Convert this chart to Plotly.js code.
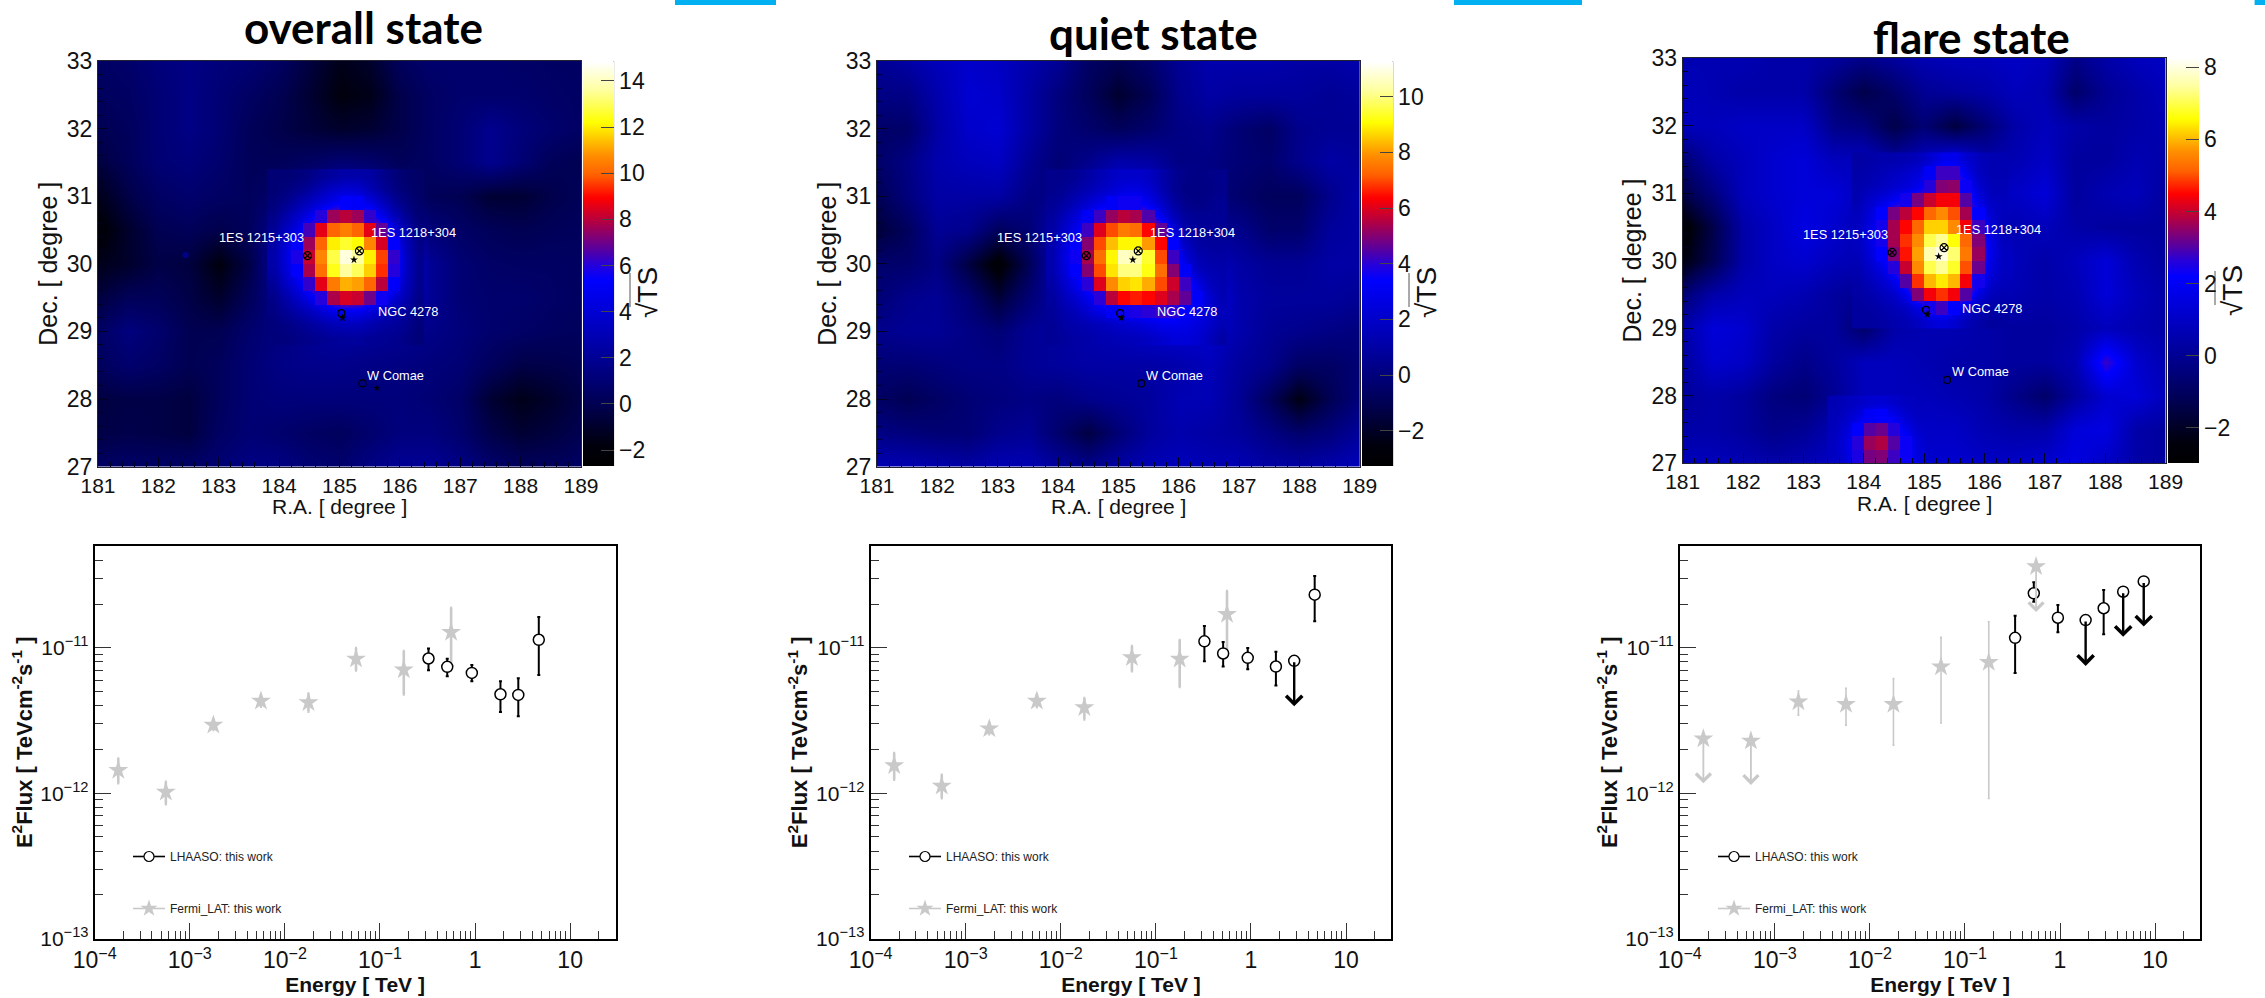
<!DOCTYPE html>
<html><head><meta charset="utf-8">
<script src="https://cdn.plot.ly/plotly-3.0.1.min.js"></script>
<style>html,body{margin:0;padding:0;background:#fff}#c{width:2265px;height:998px}</style></head>
<body><div id="c"></div><script>
// ---------- Sky maps: coarse background, read at 0.5 degree nodes ----------
const raCoarse=[181,181.5,182,182.5,183,183.5,184,184.5,185,185.5,186,186.5,187,187.5,188,188.5,189];
const decCoarse=[33,32.5,32,31.5,31,30.5,30,29.5,29,28.5,28,27.5,27];
const overallBg=[
[.5,.7,1.2,1.5,1.2,1,.5,-.5,-1.5,-1,.3,.8,.8,.8,.6,.5,.5],
[.3,.5,1,1.5,1,.5,0,-.8,-1.8,-1.5,-.2,.5,.8,.8,.8,.6,.5],
[0,.3,1,1.5,1,.2,-.2,-.6,-1,-.8,-.2,.5,1,1.8,1.2,.8,.5],
[-.5,.2,1,1.2,.8,.2,.2,.5,1,.8,.2,.5,1,1.8,1,.2,0],
[-1.5,-.3,.5,.8,.5,.3,.8,1.6,2.8,2.4,1,.2,0,-.8,-.8,-.2,.2],
[-2.2,-1,0,.2,-.2,.3,2,4,8,8,3,1.2,.6,.2,0,.2,.3],
[-1.5,-1,-.3,-.5,-1.8,-.3,2.5,6,12,12,5,2,1,.6,.5,.5,.4],
[-.5,.2,.2,-.3,-1,.2,1.8,4,8,8,4,2,1,.8,.8,.6,.4],
[.5,1.3,.8,0,0,.8,1.4,2,2.4,2.2,2,1.6,1.2,.8,.6,.4,.3],
[.3,.8,.5,0,.3,1,1.5,1.7,1.7,1.5,1.4,1.2,1,.3,-.3,-.2,0],
[-.5,-.3,-.3,-.5,.3,1,1.2,1.2,1.2,1.2,1.2,1,.6,-.8,-1.5,-1,-.3],
[-.3,-.2,-.3,-.5,.5,1,.8,.5,.3,.8,1.3,1.3,.8,-.2,-.8,-.5,0],
[.5,.6,.6,.6,1,1.5,1.5,1,.8,1.5,2,2,1.5,.8,.3,.3,.5]];
const quietBg=[
[.6,1,1.6,2,1.8,1.2,.6,-.6,-1,-.4,.6,1.2,1.2,1.2,1,1,1.2],
[.2,.2,1.2,2.2,2,1,0,-.8,-1.8,-1,.4,1,.8,.8,.8,.6,.8],
[-.5,-.5,1,2,2.2,1,0,-.4,-.8,-.4,.2,.4,-.2,-.6,.4,.6,.6],
[-.5,.2,1.2,1.6,1.8,.6,-.2,.4,1.2,1,.2,.2,-.2,-.4,.4,1,.8],
[-1,0,1,1,1,.2,.2,1.2,2.4,2,.8,.2,-.4,-.8,-.8,.4,1.2],
[-1.6,-.8,.6,.4,-.8,-.2,1.4,3,5.5,5.5,2.5,.6,.4,-.4,-.4,.8,1],
[-.4,-.4,.2,-1.4,-3,-1,1.6,3.5,9,9,4,1.8,1,.6,.6,1,1],
[-.2,.4,.6,-.2,-1.6,-.2,1,2.4,5.5,6,5,2.8,1.2,.8,.8,.8,.6],
[.4,.6,.6,.2,-.2,.6,.8,1.2,1.6,2,2.2,2,1.2,.6,.4,.2,0],
[-.2,-.2,0,.2,.2,.6,.8,1,1,1,1.2,1.6,.8,.4,-.6,-.6,-.2],
[-.6,-1,-.6,-.2,0,.2,0,.4,.6,.8,1.4,1.4,.6,-.8,-2.4,-1,0],
[.2,0,-.2,-.2,.4,.6,-.4,-1.4,-.2,.8,1.2,1,.8,.2,-.4,0,.8],
[1.4,1.4,1.2,1,1.4,1.4,.8,.4,1,1.4,1.6,1.4,1.4,1,1,1.2,1.6]];
const flareBg=[
[.6,.6,.6,.4,.4,.2,-.2,.2,.6,.8,.8,1,.8,-.2,.4,.8,1],
[.8,.6,.4,.4,.4,-.6,-1.4,-.8,0,.2,.4,.8,.6,-.8,0,.4,.8],
[.8,.8,1,1,1,-.2,-.4,-1.4,-.6,-1.6,-.6,.4,.8,.4,.2,.4,.6],
[-.6,.4,.8,1.2,1.4,.8,.8,.2,.8,1.6,.4,.6,1,.2,.2,.6,.4],
[-1.4,-.4,.8,1.2,1.4,1.4,.8,.6,1.8,3,1.2,1,1.4,.2,.6,.8,.2],
[-2.8,-1.4,.4,1,1.6,1.2,.6,1.6,5,6,1.2,.6,.8,.4,.2,.2,.2],
[-2.4,-1.2,.4,1,1.2,.8,.6,2,7,7,2,.8,.4,.8,1.4,.6,.2],
[-.6,.4,.8,.8,.6,.2,0,.8,4,4,1.2,.6,.4,.6,1.4,.8,.4],
[.4,1.4,1.2,.4,.2,.2,-.8,.4,.6,.6,.4,.2,.2,.4,.8,.6,.4],
[.2,1.2,1,.2,-.2,.2,.8,.8,.6,.4,.4,.2,.2,.6,2.8,1.2,.6],
[.2,.4,.2,-.4,-.6,0,.8,.8,.8,.6,.4,-.2,-.8,.2,1.2,1.4,.8],
[.4,.4,.2,-.2,0,.6,1.6,1.4,1,1,.6,.4,.4,1.4,1.6,.4,.2],
[.8,.8,.6,.4,.6,1,1.6,1.6,1.2,1.2,1,1,1.2,1.6,1,.4,.2]];
// ---------- Sky maps: central excess, read at the 0.2 degree pixels ----------
const overallCoreRA=[183.9,184.1,184.3,184.5,184.7,184.9,185.1,185.3,185.5,185.7,185.9,186.1,186.3];
const overallCoreDec=[31.3,31.1,30.9,30.7,30.5,30.3,30.1,29.9,29.7,29.5,29.3,29.1,28.9];
const overallCore=[
[1,1,1.2,1.5,2,2.3,2.6,2.6,2.4,1.8,1.2,.8,.6],
[1,1.3,1.7,2.2,3,3.6,4,3.8,3,2.2,1.5,1,.6],
[1.2,1.8,2.6,3.4,4.2,5,5.4,5.2,4.6,3.4,2.2,1.4,.8],
[1.6,2.6,3.6,4.8,6,7.6,8,7.6,6.2,4.8,3.2,2,1],
[2,3.4,4.6,6.4,8.6,10,10.5,10,8.6,6.8,4.4,2.8,1.4],
[2.4,4,5.4,7.6,10,12,12.6,12.2,10.6,8.4,5.4,3.2,1.6],
[2.6,4.2,5.8,8.2,10.6,12.8,14.4,13.6,12,9.6,6.2,3.4,1.8],
[2.4,4,5.4,7.8,10.2,12.4,13.6,13,11.6,9.4,6,3.4,1.8],
[2,3.4,4.6,6.2,8.6,10.4,11.2,11,10,8,5.2,3.2,1.8],
[1.6,2.6,3.6,4.8,6,7.8,8.4,8.2,7,5.6,4,2.8,1.6],
[1.4,2,2.6,3.2,4,4.6,5,4.9,4.2,3.4,2.8,2.2,1.4],
[1.2,1.5,1.8,2.2,2.6,3,3.2,3.2,2.8,2.4,2.2,1.8,1.2],
[1.2,1.3,1.5,1.7,1.9,2.1,2.2,2.2,2,1.9,1.8,1.5,1.1]];
const quietCoreRA=[183.9,184.1,184.3,184.5,184.7,184.9,185.1,185.3,185.5,185.7,185.9,186.1,186.3,186.5,186.7];
const quietCoreDec=[31.3,31.1,30.9,30.7,30.5,30.3,30.1,29.9,29.7,29.5,29.3,29.1,28.9];
const quietCore=[
[.4,.4,.6,1,1.4,1.8,2,2,1.8,1.2,.6,.3,.2,.3,.4],
[.4,.6,1,1.4,1.8,2.2,2.6,2.6,2.2,1.4,.6,.2,.2,.2,.4],
[.6,1,1.6,2.2,2.8,3.2,3.6,3.6,3,2,1,.4,.2,.4,.6],
[.8,1.6,2.4,3.2,4.2,5.2,5.6,5.4,4.4,3,1.6,.8,.6,.6,.6],
[1,2,3,4.2,6,7,7.6,7.4,6.4,4.6,2.6,1.2,.8,.7,.6],
[1.2,2.4,3.4,5,7,8.4,9,9,8,6.4,3.4,1.8,1,.8,.8],
[1.2,2.6,3.6,5.4,7.4,9,10.6,10.4,9.4,7,4.2,2.4,1.4,1.1,1],
[1.2,2.4,3.4,5,7,8.8,10,10,9.2,7.4,5,3.2,1.8,1.4,1.2],
[1,2,3,4,6,7.8,8.6,8.8,8.2,7,5.8,4.2,2.8,1.7,1.3],
[.8,1.6,2.2,3,4,5.6,6.4,6.6,6.4,6,5.4,4.6,3.2,2.2,1.4],
[.7,1.2,1.6,2.2,2.8,3.2,3.6,3.8,4,4.2,4,3.4,2.8,2.2,1.6],
[.6,1,1.2,1.4,1.6,1.9,2.1,2.3,2.6,2.9,3,2.8,2.5,2,1.4],
[.6,.8,1,1.1,1.3,1.4,1.5,1.6,1.8,2.1,2.4,2.4,2.2,1.6,1]];
const flareCoreRA=[183.9,184.1,184.3,184.5,184.7,184.9,185.1,185.3,185.5,185.7,185.9,186.1,186.3];
const flareCoreDec=[31.5,31.3,31.1,30.9,30.7,30.5,30.3,30.1,29.9,29.7,29.5,29.3,29.1];
const flareCore=[
[.3,.4,.5,.5,.6,.8,1.2,1.8,1.8,1.2,.8,.6,.6],
[.4,.5,.7,.9,1.1,1.4,2,2.8,2.8,1.7,.9,.6,.6],
[.5,.7,.9,1.2,1.4,1.8,2.6,3.4,3.5,2.3,1.2,.7,.7],
[.6,1.1,1.5,1.9,2.4,3.3,4,4.4,4.4,3,1.6,.9,.8],
[.8,1.4,2.2,3.3,3.9,4.5,5.2,5.6,5,3.7,2.2,1.2,.8],
[.9,1.6,2.4,3.7,4.5,5.2,6.2,6.2,5.6,4.4,2.8,1.4,.7],
[.9,1.6,2.4,3.7,4.8,5.6,7,7.4,6.6,5.2,3.4,1.7,.8],
[.8,1.4,2.2,3.4,4.6,5.8,7.6,8,7.2,5.4,3.6,1.7,.9],
[.6,1.1,1.7,2.6,4,5.6,7,7.4,6.8,5,3.2,1.5,.9],
[.4,.8,1.2,1.8,3,4.8,6,6.4,6,4.4,2.4,1.2,.8],
[.3,.5,.8,1.1,1.8,3.4,4.4,4.8,4.4,3,1.5,.8,.6],
[.2,.3,.5,.7,1,1.6,2.4,2.8,2.2,1.3,.7,.4,.4],
[.2,.2,.3,.5,.6,.9,1.3,1.5,1.2,.7,.4,.2,.2]];
const flareSpotRA=[183.5,183.7,183.9,184.1,184.3,184.5,184.7,184.9];
const flareSpotDec=[27.9,27.7,27.5,27.3,27.1];
const flareSpot=[
[.6,.8,1,1.2,1.3,1.1,.9,.8],
[.7,1,1.5,2,2.2,1.8,1.2,.9],
[.8,1.3,2.2,3,3.2,2.6,1.8,1.1],
[.9,1.5,2.6,3.6,3.8,3,2.3,1.3],
[.9,1.4,2.5,3.3,3.4,2.8,2.3,1.4]];
// ---------- Sources ----------
const labelNames=["1ES 1215+303","1ES 1218+304","NGC 4278","W Comae"];
const labelRA=[183.7,186.23,186.13,185.93];
const labelDec=[30.39,30.46,29.29,28.35];
const crossRA=[184.47,185.33], crossDec=[30.12,30.19];
const ringRA=[185.03,185.38], ringDec=[29.27,28.23];
const starRA=[185.24,185.05], starDec=[30.06,29.2];
const overallExtraRA=[185.62], overallExtraDec=[28.16];
const overallDotRA=[182.45], overallDotDec=[30.13];
// ---------- Spectra ----------
const fermiE=[1.77e-4,5.6e-4,1.77e-3,5.6e-3,1.77e-2,5.6e-2,1.78e-1,5.6e-1];
const overallFermiY=[1.44e-12,1.02e-12,2.94e-12,4.31e-12,4.20e-12,8.39e-12,7.05e-12,1.28e-11];
const overallFermiHi=[1.73e-12,1.20e-12,3.15e-12,4.72e-12,4.84e-12,9.95e-12,9.48e-12,1.88e-11];
const overallFermiLo=[1.17e-12,.84e-12,2.72e-12,3.94e-12,3.64e-12,6.98e-12,4.77e-12,7.3e-12];
const overallFermiUL=[0,0,0,0,0,0,0,0];
const overallLhaasoE=[.324,.51,.925,1.85,2.85,4.68];
const overallLhaasoY=[8.44e-12,7.4e-12,6.72e-12,4.79e-12,4.74e-12,1.135e-11];
const overallLhaasoHi=[9.9e-12,8.4e-12,7.6e-12,5.88e-12,6.18e-12,1.63e-11];
const overallLhaasoLo=[7.0e-12,6.38e-12,5.88e-12,3.62e-12,3.38e-12,6.5e-12];
const overallLhaasoUL=[0,0,0,0,0,0];
const quietFermiY=[1.55e-12,1.12e-12,2.78e-12,4.31e-12,3.88e-12,8.58e-12,8.36e-12,1.70e-11];
const quietFermiHi=[1.89e-12,1.34e-12,3.05e-12,4.79e-12,4.52e-12,1.026e-11,1.13e-11,2.46e-11];
const quietFermiLo=[1.24e-12,.925e-12,2.55e-12,3.9e-12,3.22e-12,6.9e-12,5.38e-12,9.1e-12];
const quietFermiUL=[0,0,0,0,0,0,0,0];
const quietLhaasoE=[.324,.51,.925,1.83,2.85,4.68];
const quietLhaasoY=[1.107e-11,9.14e-12,8.53e-12,7.43e-12,8.13e-12,2.32e-11];
const quietLhaasoHi=[1.41e-11,1.094e-11,9.95e-12,9.38e-12,8.13e-12,3.12e-11];
const quietLhaasoLo=[8.09e-12,7.43e-12,7.13e-12,5.5e-12,3.96e-12,1.52e-11];
const quietLhaasoUL=[0,0,0,0,1,0];
const flareFermiY=[2.37e-12,2.29e-12,4.25e-12,4.09e-12,4.09e-12,7.4e-12,7.96e-12,3.62e-11];
const flareFermiHi=[2.37e-12,2.29e-12,5.05e-12,5.27e-12,6.15e-12,1.18e-11,1.51e-11,3.62e-11];
const flareFermiLo=[1.17e-12,1.14e-12,3.44e-12,2.94e-12,2.14e-12,3.04e-12,9.2e-13,1.76e-11];
const flareFermiUL=[1,1,0,0,0,0,0,1];
const flareLhaasoE=[.337,.53,.95,1.86,2.88,4.62,7.6];
const flareLhaasoY=[1.17e-11,2.37e-11,1.61e-11,1.55e-11,1.87e-11,2.43e-11,2.86e-11];
const flareLhaasoHi=[1.66e-11,2.82e-11,1.97e-11,1.55e-11,2.5e-11,2.43e-11,2.86e-11];
const flareLhaasoLo=[6.72e-12,2.07e-11,1.28e-11,7.5e-12,1.24e-11,1.19e-11,1.40e-11];
const flareLhaasoUL=[0,0,0,1,0,1,1];
// ---------- Text ----------
const titles=["overall state","quiet state","flare state"];
const energyTickVals=[1e-4,1e-3,1e-2,1e-1,1,10];
const energyTickText=["10<sup>−4</sup>","10<sup>−3</sup>","10<sup>−2</sup>","10<sup>−1</sup>","1","10"];
const fluxTickVals=[1e-13,1e-12,1e-11];
const fluxTickText=["10<sup>−13</sup>","10<sup>−12</sup>","10<sup>−11</sup>"];

// ---------- Colours and geometry ----------
const heatScale=[[0,'#000000'],[.05,'#00000c'],[.15,'#000050'],[.3,'#0000a8'],[.46,'#0000ff'],[.5,'#2800d8'],[.53,'#5000a8'],[.606,'#b40040'],[.664,'#ff0000'],[.72,'#ff6000'],[.77,'#ff9000'],[.85,'#ffff00'],[.93,'#ffffa0'],[1,'#ffffff']];
const GREY='#c9c9c9';
const FONT='"Liberation Sans",Arial,sans-serif';
const W=2265,H=998;
const fx=p=>p/W, fy=p=>1-p/H;
const maps=[
 {bg:overallBg,cores:[[overallCoreRA,overallCoreDec,overallCore]],x0:98,x1:581,y0:61,y1:466.6,cb0:582.6,cb1:613.6,cy0:61.7,cy1:466,zmin:-2.69,zmax:14.82,title:[363.5,27],ts:[647,293],tick:[630,273,307]},
 {bg:quietBg,cores:[[quietCoreRA,quietCoreDec,quietCore]],x0:877,x1:1359.7,y0:61,y1:466.6,cb0:1361.6,cb1:1392.7,cy0:61.7,cy1:466,zmin:-3.27,zmax:11.25,title:[1153,33],ts:[1426,293],tick:[1409,273,307]},
 {bg:flareBg,cores:[[flareCoreRA,flareCoreDec,flareCore],[flareSpotRA,flareSpotDec,flareSpot]],x0:1682.7,x1:2165.6,y0:58,y1:463,cb0:2167.9,cb1:2198.4,cy0:58.5,cy1:463,zmin:-2.98,zmax:8.26,title:[1971,37],ts:[2232,291],tick:[2215,271,305]}];
const specs=[
 {x0:94.7,x1:615.5,fy:overallFermiY,fh:overallFermiHi,fl:overallFermiLo,fu:overallFermiUL,le:overallLhaasoE,ly:overallLhaasoY,lh:overallLhaasoHi,ll:overallLhaasoLo,lu:overallLhaasoUL,ft:2.6,lgx:128},
 {x0:870.6,x1:1391.4,fy:quietFermiY,fh:quietFermiHi,fl:quietFermiLo,fu:quietFermiUL,le:quietLhaasoE,ly:quietLhaasoY,lh:quietLhaasoHi,ll:quietLhaasoLo,lu:quietLhaasoUL,ft:2.6,lgx:904},
 {x0:1679.8,x1:2200.4,fy:flareFermiY,fh:flareFermiHi,fl:flareFermiLo,fu:flareFermiUL,le:flareLhaasoE,ly:flareLhaasoY,lh:flareLhaasoHi,ll:flareLhaasoLo,lu:flareLhaasoUL,ft:1.6,lgx:1713}];
const SY0=546,SY1=938.6;

const traces=[],annotations=[],shapes=[];
const layout={width:W,height:H,margin:{l:0,r:0,t:0,b:0},paper_bgcolor:'#fff',plot_bgcolor:'#fff',font:{family:FONT,color:'#111'},showlegend:true};

[[675,776],[1454,1582],[2254.6,2265]].forEach(b=>shapes.push({type:'rect',xref:'paper',yref:'paper',x0:fx(b[0]),x1:fx(b[1]),y0:fy(5),y1:1,fillcolor:'#00B0F0',line:{width:0}}));

maps.forEach((m,i)=>{
  const n=i+1, xa='x'+n, ya='y'+n, xk='xaxis'+n, yk='yaxis'+n;
  const common={colorscale:heatScale,zmin:m.zmin,zmax:m.zmax,xaxis:xa,yaxis:ya,hoverinfo:'skip'};
  traces.push(Object.assign({type:'heatmap',x:raCoarse,y:decCoarse,z:m.bg,zsmooth:'best',showlegend:false,
    colorbar:{x:fx(m.cb0),xanchor:'left',xpad:0,y:fy(m.cy1),yanchor:'bottom',ypad:0,len:(m.cy1-m.cy0)/H,lenmode:'fraction',thickness:m.cb1-m.cb0,thicknessmode:'pixels',
      outlinewidth:0,ticks:'inside',ticklen:13,tickcolor:'#444',tickwidth:1,tick0:0,dtick:2,tickfont:{size:23,color:'#111'}}},common));
  const level=m.zmin+.44*(m.zmax-m.zmin);
  m.cores.forEach(c=>traces.push(Object.assign({type:'heatmap',x:c[0],y:c[1],z:c[2],zsmooth:'best',showscale:false,showlegend:false},common)));
  m.cores.forEach(c=>traces.push(Object.assign({type:'heatmap',x:c[0],y:c[1],z:c[2].map(r=>r.map(v=>v<level?null:v)),zsmooth:false,showscale:false,showlegend:false},common)));
  const mk=(X,Y,sym,size,lw,col)=>traces.push({type:'scatter',mode:'markers',x:X,y:Y,xaxis:xa,yaxis:ya,showlegend:false,hoverinfo:'skip',marker:{symbol:sym,size:size,color:col||'#000',line:{color:col||'#000',width:lw}}});
  mk(crossRA,crossDec,'circle-x-open',8,1.2);
  mk(ringRA,ringDec,'circle-open',7,1.2);
  mk(starRA,starDec,'star',6,0);
  if(i===0){ mk(overallExtraRA,overallExtraDec,'star',5,0); mk(overallDotRA,overallDotDec,'circle',6,0,'#00008c'); }
  labelNames.forEach((t,k)=>annotations.push({xref:xa,yref:ya,x:labelRA[k],y:labelDec[k],text:t,showarrow:false,font:{size:12.8,color:'#fff',family:FONT}}));
  layout[xk]={domain:[fx(m.x0),fx(m.x1)],anchor:ya,range:[181,189],tick0:181,dtick:1,ticks:'inside',ticklen:10,tickcolor:'#000020',
    minor:{ticks:'inside',ticklen:5,dtick:.2,tickcolor:'#000020'},showgrid:false,zeroline:false,showline:true,linecolor:'#223',linewidth:1,mirror:true,tickfont:{size:21,color:'#111'},layer:'above traces'};
  layout[yk]={domain:[fy(m.y1),fy(m.y0)],anchor:xa,range:[27,33],tick0:27,dtick:1,ticks:'inside',ticklen:10,tickcolor:'#000020',
    minor:{ticks:'inside',ticklen:5,dtick:.2,tickcolor:'#000020'},showgrid:false,zeroline:false,showline:true,linecolor:'#223',linewidth:1,mirror:true,tickfont:{size:23,color:'#111'},
    title:{text:'Dec. [ degree ]',font:{size:25,color:'#111'},standoff:2},layer:'above traces'};
  annotations.push({xref:'paper',yref:'paper',x:fx((m.x0+m.x1)/2),y:fy(m.y1+40),text:'R.A. [ degree ]',showarrow:false,xanchor:'center',yanchor:'middle',font:{size:21,color:'#111'}});
  annotations.push({xref:'paper',yref:'paper',x:fx(m.title[0]),y:fy(m.title[1]),text:titles[i],showarrow:false,xanchor:'center',yanchor:'middle',font:{family:'Lato,sans-serif',size:44,color:'#000',weight:700}});
  annotations.push({xref:'paper',yref:'paper',x:fx(m.ts[0]),y:fy(m.ts[1]),text:'√TS',showarrow:false,textangle:-90,xanchor:'center',yanchor:'middle',font:{size:28,color:'#111'}});
  shapes.push({type:'line',xref:'paper',yref:'paper',x0:fx(m.tick[0]),x1:fx(m.tick[0]),y0:fy(m.tick[1]),y1:fy(m.tick[2]),line:{color:'#555',width:1}});
  shapes.push({type:'line',xref:'paper',yref:'paper',x0:fx(m.cb1),x1:fx(m.cb1),y0:fy(m.cy0),y1:fy(m.cy1),line:{color:'#333',width:1}});
});

const decadeMinors=(a,b)=>{const r=[];for(let d=a;d<=b;d++)for(let k=2;k<=9;k++)r.push(k*Math.pow(10,d));return r;};
specs.forEach((s,i)=>{
  const n=i+4, xa='x'+n, ya='y'+n, lg=i===0?'legend':'legend'+(i+1);
  const err=(y,hi,lo,ul)=>({type:'data',symmetric:false,array:y.map((v,k)=>ul[k]?0:hi[k]-v),arrayminus:y.map((v,k)=>ul[k]?0:v-lo[k])});
  traces.push({type:'scatter',mode:'markers',x:fermiE,y:s.fy,xaxis:xa,yaxis:ya,showlegend:false,name:'Fermi_LAT',
    marker:{symbol:'star',size:15,color:GREY,line:{width:0}},error_y:Object.assign(err(s.fy,s.fh,s.fl,s.fu),{color:GREY,thickness:s.ft,width:1})});
  traces.push({type:'scatter',mode:'markers',x:s.le,y:s.ly,xaxis:xa,yaxis:ya,showlegend:false,name:'LHAASO',
    marker:{symbol:'circle',size:11,color:'#fff',line:{color:'#000',width:1.5}},error_y:Object.assign(err(s.ly,s.lh,s.ll,s.lu),{color:'#000',thickness:2,width:1.5})});
  const ul=(X,Y,Lo,U,color,w)=>X.forEach((e,k)=>{ if(U[k]) annotations.push({xref:xa,yref:ya,axref:xa,ayref:ya,x:Math.log10(e),y:Math.log10(Lo[k]),ax:Math.log10(e),ay:Math.log10(Y[k]),text:'',showarrow:true,arrowhead:4,arrowsize:color===GREY?1.6:1.3,arrowwidth:w,arrowcolor:color}); });
  ul(fermiE,s.fy,s.fl,s.fu,GREY,1.8);
  ul(s.le,s.ly,s.ll,s.lu,'#000',2.4);
  traces.push({type:'scatter',mode:'lines+markers',x:[null],y:[null],xaxis:xa,yaxis:ya,name:'LHAASO: this work',legend:lg,legendgroup:'a'+i,
    line:{color:'#000',width:1.6},marker:{symbol:'circle',size:10,color:'#fff',line:{color:'#000',width:1.2}}});
  traces.push({type:'scatter',mode:'lines+markers',x:[null],y:[null],xaxis:xa,yaxis:ya,name:'Fermi_LAT: this work',legend:lg,legendgroup:'b'+i,
    line:{color:GREY,width:1.6},marker:{symbol:'star',size:13,color:GREY,line:{width:0}}});
  layout[lg]={x:fx(s.lgx),xanchor:'left',y:fy(842),yanchor:'top',bgcolor:'rgba(0,0,0,0)',borderwidth:0,font:{size:12,color:'#222'},tracegroupgap:33,itemwidth:32,itemclick:false};
  layout['xaxis'+n]={domain:[fx(s.x0),fx(s.x1)],anchor:ya,type:'log',range:[-4,1.477],tickmode:'array',tickvals:energyTickVals,ticktext:energyTickText,ticks:'inside',ticklen:16,tickwidth:1,tickcolor:'#333',
    minor:{ticks:'inside',ticklen:8,tickmode:'array',tickvals:decadeMinors(-4,1),tickcolor:'#333',tickwidth:1},showgrid:false,zeroline:false,showline:true,linecolor:'#000',linewidth:2,mirror:true,tickfont:{size:23,color:'#111'},
    title:{text:'<b>Energy [ TeV ]</b>',font:{size:21,color:'#111'},standoff:0}};
  layout['yaxis'+n]={domain:[fy(SY1),fy(SY0)],anchor:xa,type:'log',range:[-13,-10.3],tickmode:'array',tickvals:fluxTickVals,ticktext:fluxTickText,ticks:'inside',ticklen:16,tickwidth:1,tickcolor:'#333',
    minor:{ticks:'inside',ticklen:8,tickmode:'array',tickvals:decadeMinors(-13,-11),tickcolor:'#333',tickwidth:1},showgrid:false,zeroline:false,showline:true,linecolor:'#000',linewidth:2,mirror:true,tickfont:{size:21,color:'#111'},
    title:{text:'<b>E<sup>2</sup>Flux [ TeVcm<sup>-2</sup>s<sup>-1</sup> ]</b>',font:{size:22,color:'#111'},standoff:2}};
});
layout.annotations=annotations; layout.shapes=shapes;
Plotly.newPlot('c',traces,layout,{displayModeBar:false,staticPlot:true});
</script></body></html>
